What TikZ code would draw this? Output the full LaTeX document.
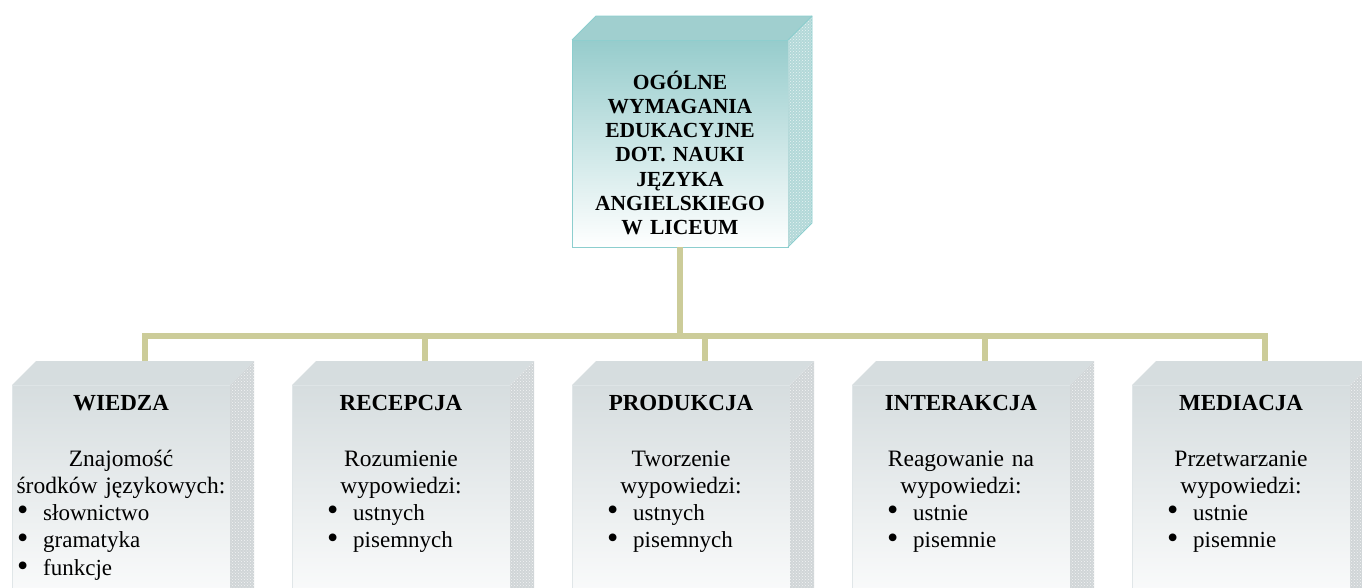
\documentclass[tikz,border=0pt]{standalone}
\usepackage{fontspec}
\setmainfont{Liberation Serif}
\usepackage{graphicx}
\usepackage{tikz}
\usetikzlibrary{calc, positioning, patterns}

\definecolor{tealtop}{RGB}{150,204,204}
\definecolor{tealroof}{RGB}{160,207,207}
\definecolor{tealside}{RGB}{178,216,216}
\definecolor{tealedge}{RGB}{140,206,206}
\definecolor{greytop}{RGB}{214,221,223}
\definecolor{greyroof}{RGB}{214,221,223}
\definecolor{greyside}{RGB}{208,213,215}
\definecolor{greyedge}{RGB}{224,230,232}
\definecolor{linkcol}{RGB}{204,204,153}

\newcommand{\bul}{\makebox[26pt][l]{\raisebox{-0.5pt}{\scalebox{1.4}{\textbullet}}}}

\tikzset{
  front/.style={draw=greyedge, line width=0.8pt, outer sep=0pt, inner sep=0pt,
    minimum width=218pt, minimum height=240pt, top color=greytop, bottom color=white},
  headfront/.style={draw=tealedge, line width=1pt, outer sep=0pt, inner sep=0pt,
    minimum width=216pt, minimum height=207pt, top color=tealtop, bottom color=white},
  link/.style={line width=6pt, draw=linkcol},
  headtext/.style={font=\fontsize{21.5}{24.3}\selectfont\bfseries, inner sep=0pt,
    text width=216pt, align=center},
  title/.style={font=\fontsize{23}{27}\selectfont\bfseries, inner sep=0pt},
  body/.style={font=\fontsize{23.5}{27.5}\selectfont, inner sep=0pt,
    text width=218pt, align=center},
  items/.style={font=\fontsize{23}{27.8}\selectfont, inner sep=0pt,
    text width=180pt, align=left},
}

\begin{document}
\begin{tikzpicture}[x=1pt, y=-1pt]
\useasboundingbox (0,0) rectangle (1362,587);
\clip (0,0) rectangle (1362,587);

% main box
\node[headfront] (head) at (680,143.5) {};
\fill[tealroof] (head.north west) -- ++(24,-24) -- ($(head.north east)+(24,-24)$) -- (head.north east) -- cycle;
\fill[tealside] (head.north east) -- ++(24,-24) -- ($(head.south east)+(24,-24)$) -- (head.south east) -- cycle;
\fill[pattern=crosshatch dots, pattern color=white!70!tealside] (head.north east) -- ++(24,-24) -- ($(head.south east)+(24,-24)$) -- (head.south east) -- cycle;
\draw[tealedge, line width=0.8pt] (head.north west) -- ++(24,-24) -- ($(head.north east)+(24,-24)$) -- ($(head.south east)+(24,-24)$) -- (head.south east);
\draw[tealedge, line width=0.8pt] (head.north east) -- ++(24,-24);
\node[headtext, anchor=base] (head-t) at ($(head.north)+(0,49)$)
  {OGÓLNE\\WYMAGANIA\\EDUKACYJNE\\DOT. NAUKI\\JĘZYKA\\ANGIELSKIEGO\\W LICEUM};

% lower boxes
\node[front, anchor=north] (wiedza) at (121,385) {};
\node[front, right=62pt of wiedza] (recepcja) {};
\node[front, right=62pt of recepcja] (produkcja) {};
\node[front, right=62pt of produkcja] (interakcja) {};
\node[front, right=62pt of interakcja] (mediacja) {};

\foreach \b in {wiedza,recepcja,produkcja,interakcja,mediacja} {
  \fill[greyroof] (\b.north west) -- ++(24,-24) -- ($(\b.north east)+(24,-24)$) -- (\b.north east) -- cycle;
  \fill[greyside] (\b.north east) -- ++(24,-24) -- ($(\b.south east)+(24,-24)$) -- (\b.south east) -- cycle;
  \fill[pattern=crosshatch dots, pattern color=white!75!greyside] (\b.north east) -- ++(24,-24) -- ($(\b.south east)+(24,-24)$) -- (\b.south east) -- cycle;
  \coordinate (\b-in) at ($(\b.north)+(24,-24)$);
}

\node[title, anchor=base] (wiedza-t) at ($(wiedza.north)+(0,25)$) {WIEDZA};
\node[title, anchor=base] (recepcja-t) at ($(recepcja.north)+(0,25)$) {RECEPCJA};
\node[title, anchor=base] (produkcja-t) at ($(produkcja.north)+(0,25)$) {PRODUKCJA};
\node[title, anchor=base] (interakcja-t) at ($(interakcja.north)+(0,25)$) {INTERAKCJA};
\node[title, anchor=base] (mediacja-t) at ($(mediacja.north)+(0,25)$) {MEDIACJA};

\node[body, anchor=base] (wiedza-b) at ($(wiedza.north)+(0,81)$) {Znajomość\\środków językowych:};
\node[body, anchor=base] (recepcja-b) at ($(recepcja.north)+(0,81)$) {Rozumienie\\wypowiedzi:};
\node[body, anchor=base] (produkcja-b) at ($(produkcja.north)+(0,81)$) {Tworzenie\\wypowiedzi:};
\node[body, anchor=base] (interakcja-b) at ($(interakcja.north)+(0,81)$) {Reagowanie na\\wypowiedzi:};
\node[body, anchor=base] (mediacja-b) at ($(mediacja.north)+(0,81)$) {Przetwarzanie\\wypowiedzi:};

\node[items, anchor=base west] (wiedza-l) at ($(wiedza.north west)+(5,135)$) {\bul słownictwo\\\bul gramatyka\\\bul funkcje};
\node[items, anchor=base west] (recepcja-l) at ($(recepcja.north west)+(35,135)$) {\bul ustnych\\\bul pisemnych};
\node[items, anchor=base west] (produkcja-l) at ($(produkcja.north west)+(35,135)$) {\bul ustnych\\\bul pisemnych};
\node[items, anchor=base west] (interakcja-l) at ($(interakcja.north west)+(35,135)$) {\bul ustnie\\\bul pisemnie};
\node[items, anchor=base west] (mediacja-l) at ($(mediacja.north west)+(35,135)$) {\bul ustnie\\\bul pisemnie};

% connectors
\coordinate (bus) at (680,336);
\draw[link] (head.south) -- (bus);
\foreach \b in {wiedza,recepcja,produkcja,interakcja,mediacja}
  \draw[link] (\b-in) |- (bus);
\end{tikzpicture}
\end{document}
